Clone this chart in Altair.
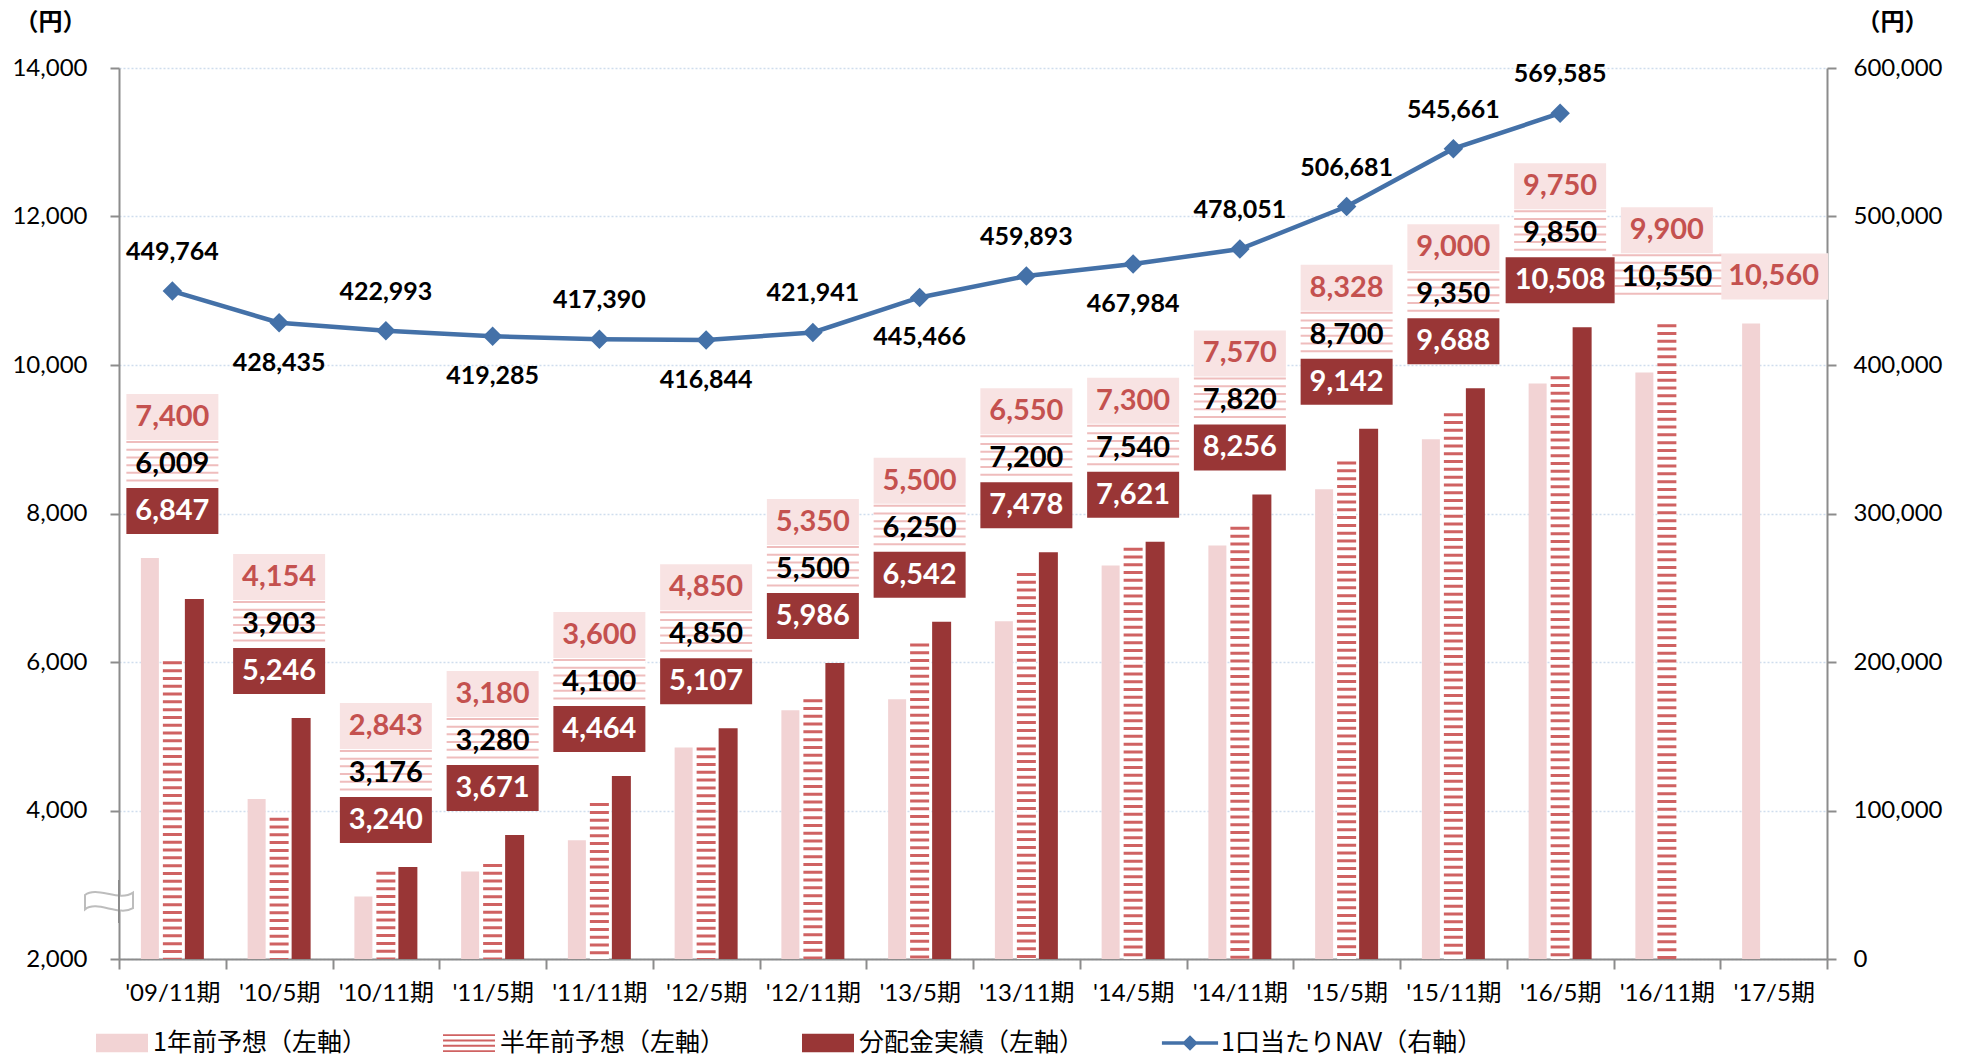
import altair as alt
import pandas as pd

# ---------------- data ----------------
cats = ["'09/11期", "'10/5期", "'10/11期", "'11/5期", "'11/11期", "'12/5期", "'12/11期", "'13/5期",
        "'13/11期", "'14/5期", "'14/11期", "'15/5期", "'15/11期", "'16/5期", "'16/11期", "'17/5期"]
one_year = [7400, 4154, 2843, 3180, 3600, 4850, 5350, 5500, 6550, 7300, 7570, 8328, 9000, 9750, 9900, 10560]
half_year = [6009, 3903, 3176, 3280, 4100, 4850, 5500, 6250, 7200, 7540, 7820, 8700, 9350, 9850, 10550, None]
actual = [6847, 5246, 3240, 3671, 4464, 5107, 5986, 6542, 7478, 7621, 8256, 9142, 9688, 10508, None, None]
nav = [449764, 428435, 422993, 419285, 417390, 416844, 421941, 445466, 459893, 467984, 478051, 506681,
       545661, 569585, None, None]
series_names = ["1年前予想（左軸）", "半年前予想（左軸）", "分配金実績（左軸）", "1口当たりNAV（右軸）"]
left_ticks = [2000, 4000, 6000, 8000, 10000, 12000, 14000]
right_ticks = [0, 100000, 200000, 300000, 400000, 500000, 600000]

# ---------------- style ----------------
FONT = "Lato, 'Noto Sans CJK JP', sans-serif"
JP = "'Noto Sans CJK JP', sans-serif"
PINK = "#F2D3D4"
STRIPE = "#CF6262"
DARK = "#993636"
BLUE = "#4471A8"
RED_TXT = "#C4514F"
LBL_PINK = "#F8E3E3"
LBL_STRIPE = "#EFBDBD"
GRAY = "#8C8C8C"
W, H = 1708, 891
GAP = 24
SLOT = 47
BOXH = 46

df = pd.DataFrame({"cat": cats, "one": one_year, "half": half_year, "act": actual,
                   "nav": nav, "idx": list(range(len(cats)))})

rows = []
for i, c in enumerate(cats):
    vals = [v for v in (one_year[i], half_year[i], actual[i]) if v is not None]
    anchor = max(vals)
    slot = 0
    for kind, v in (("act", actual[i]), ("half", half_year[i]), ("one", one_year[i])):
        if v is None:
            continue
        rows.append(dict(cat=c, kind=kind, value=v, text=f"{v:,}", slot=slot,
                         anchor=anchor, boxw=17 * len(str(v)) + 24))
        slot += 1
lab = pd.DataFrame(rows)

# ---------------- scales / axes ----------------
xaxis = alt.Axis(title=None, labelAngle=0, tickBand="extent", domainColor=GRAY, domainWidth=2,
                 tickColor=GRAY, tickWidth=2, tickSize=10, labelFont=FONT, labelFontSize=24,
                 labelColor="black", labelPadding=12, grid=False, labelOverlap=False)
X = alt.X("cat:N", scale=alt.Scale(domain=cats, paddingInner=0, paddingOuter=0), axis=xaxis)

yl_scale = alt.Scale(domain=[2000, 14000], zero=False, nice=False)
yl_axis = alt.Axis(values=left_ticks, format=",.0f", grid=True, gridColor="#CFDDEE", gridDash=[2, 2],
                   gridWidth=1.5, domainColor=GRAY, domainWidth=2, tickColor=GRAY, tickWidth=2,
                   tickSize=9, labelFont=FONT, labelFontSize=24, labelColor="black", labelPadding=23,
                   title="（円）", titleAngle=0, titleX=-69, titleY=-46, titleAlign="center",
                   titleBaseline="middle", titleFont=JP, titleFontSize=24, titleFontWeight="bold",
                   titleColor="black", labelOverlap=False)


def YL(field):
    return alt.Y(field, type="quantitative", scale=yl_scale, axis=yl_axis)


yr_axis = alt.Axis(orient="right", values=right_ticks, format=",.0f", grid=False, domainColor=GRAY,
                   domainWidth=2, tickColor=GRAY, tickWidth=2, tickSize=9, labelFont=FONT,
                   labelFontSize=24, labelColor="black", labelPadding=17, title="（円）",
                   titleAngle=0, titleX=65, titleY=-46, titleAlign="center", titleBaseline="middle",
                   titleFont=JP, titleFontSize=24, titleFontWeight="bold", titleColor="black",
                   labelOverlap=False)
YR = alt.Y("nav:Q", scale=alt.Scale(domain=[0, 600000], nice=False), axis=yr_axis)

base = alt.Chart(df)

# ---------------- bars ----------------
pink_bar = base.mark_bar(width=18, xOffset=-22.5, color=PINK).encode(x=X, y=YL("one"), y2=alt.datum(2000))
white_bar = base.mark_bar(width=19, xOffset=0, color="white").encode(x=X, y=YL("half"), y2=alt.datum(2000))
stripe_bar = base.mark_rule(strokeWidth=19, strokeDash=[3, 4.8], color=STRIPE, strokeCap="butt").encode(
    x=X, y=YL("half"), y2=alt.datum(2000))
dark_bar = base.mark_bar(width=19, xOffset=22, color=DARK).encode(x=X, y=YL("act"), y2=alt.datum(2000))

# ---------------- label boxes ----------------
label_layers = []
box_style = {"one": (LBL_PINK, None, RED_TXT), "half": (LBL_STRIPE, [2, 5.7], "black"), "act": (DARK, None, "white")}
for s in range(3):
    center = -(GAP + BOXH / 2 + SLOT * s)
    for kind, (bg, dash, tcol) in box_style.items():
        sub = lab[(lab.slot == s) & (lab.kind == kind)]
        if len(sub) == 0:
            continue
        cb = alt.Chart(sub)
        enc = dict(x=X, y=YL("anchor"), y2=alt.Y2("anchor:Q"),
                   strokeWidth=alt.StrokeWidth("boxw:Q", scale=None, legend=None))
        label_layers.append(cb.mark_rule(color="white", strokeCap="butt", yOffset=center - BOXH / 2,
                                         y2Offset=center + BOXH / 2).encode(**enc))
        kw = dict(color=bg, strokeCap="butt", yOffset=center - BOXH / 2, y2Offset=center + BOXH / 2)
        if dash:
            kw["strokeDash"] = dash
        label_layers.append(cb.mark_rule(**kw).encode(**enc))
        label_layers.append(cb.mark_text(font=FONT, fontSize=29, fontWeight="bold", color=tcol,
                                         dy=center, baseline="middle", align="center").encode(
            x=X, y=YL("anchor"), text="text:N"))

# ---------------- axis break symbol ----------------
wave = ("M-1,-0.25 C-0.5,-0.65 0.4,0.05 1,-0.35 L1,0.3 C0.4,0.65 -0.5,-0.05 -1,0.35 Z")
one_row = alt.Chart(pd.DataFrame({"a": [0]}))
brk = one_row.mark_point(shape=wave, size=2304, filled=True, fill="white", stroke="#BDBDBD",
                         strokeWidth=2, opacity=1).encode(x=alt.value(-10), y=alt.value(833))
brk_line = one_row.mark_rule(color=GRAY, strokeWidth=2).encode(x=alt.value(0), y=alt.value(812),
                                                               y2=alt.value(855))

# ---------------- legend (symbols only) ----------------
paths = [
    "M-1,-0.36H1V0.36H-1Z",
    "M-1,-0.34H1V-0.27H-1Z M-1,-0.13H1V-0.06H-1Z M-1,0.07H1V0.14H-1Z M-1,0.28H1V0.35H-1Z",
    "M-1,-0.36H1V0.36H-1Z",
    "M-1.08,-0.07H1.08V0.07H-1.08Z M0,-0.3L0.3,0L0,0.3L-0.3,0Z",
]
leg = alt.Legend(orient="none", legendX=-23, legendY=949, direction="horizontal", columns=4,
                 columnPadding=76, symbolSize=2704, labelFont=JP, labelFontSize=25, labelOffset=5,
                 title=None, symbolStrokeWidth=0, symbolOpacity=1, labelLimit=500, padding=0,
                 labelColor="black")
legend_df = pd.DataFrame({"series": series_names, "cat": cats[0], "v": 2000})
legend_layer = alt.Chart(legend_df).transform_filter("false").mark_point(filled=True, opacity=1).encode(
    x=X, y=YL("v"),
    color=alt.Color("series:N", scale=alt.Scale(domain=series_names, range=[PINK, STRIPE, DARK, BLUE]),
                    legend=leg),
    shape=alt.Shape("series:N", scale=alt.Scale(domain=series_names, range=paths), legend=leg),
)

left = alt.layer(pink_bar, white_bar, stripe_bar, dark_bar, *label_layers, brk, brk_line, legend_layer)

# ---------------- NAV line ----------------
nav_line = base.mark_line(color=BLUE, strokeWidth=4.5).encode(x=X, y=YR)
nav_pts = base.mark_point(shape="diamond", filled=True, size=380, color=BLUE, opacity=1).encode(x=X, y=YR)
nav_side = base.transform_calculate(side="(datum.idx % 2 == 0 || datum.idx >= 10) ? 'up' : 'down'")
nav_up = nav_side.transform_filter("datum.side == 'up'").mark_text(
    font=FONT, fontSize=25, fontWeight="bold", color="black", dy=-39, baseline="middle").encode(
    x=X, y=YR, text=alt.Text("nav:Q", format=","))
nav_down = nav_side.transform_filter("datum.side == 'down'").mark_text(
    font=FONT, fontSize=25, fontWeight="bold", color="black", dy=40, baseline="middle").encode(
    x=X, y=YR, text=alt.Text("nav:Q", format=","))

right = alt.layer(nav_line, nav_pts, nav_up, nav_down)

chart = alt.layer(left, right).resolve_scale(y="independent").properties(
    width=W, height=H,
    autosize=alt.AutoSizeParams(type="none"),
    padding={"left": 119, "top": 68, "right": 137, "bottom": 101},
    background="white",
).configure_view(stroke=None)

chart.save("out.html", embed_options={"renderer": "svg", "actions": False})
